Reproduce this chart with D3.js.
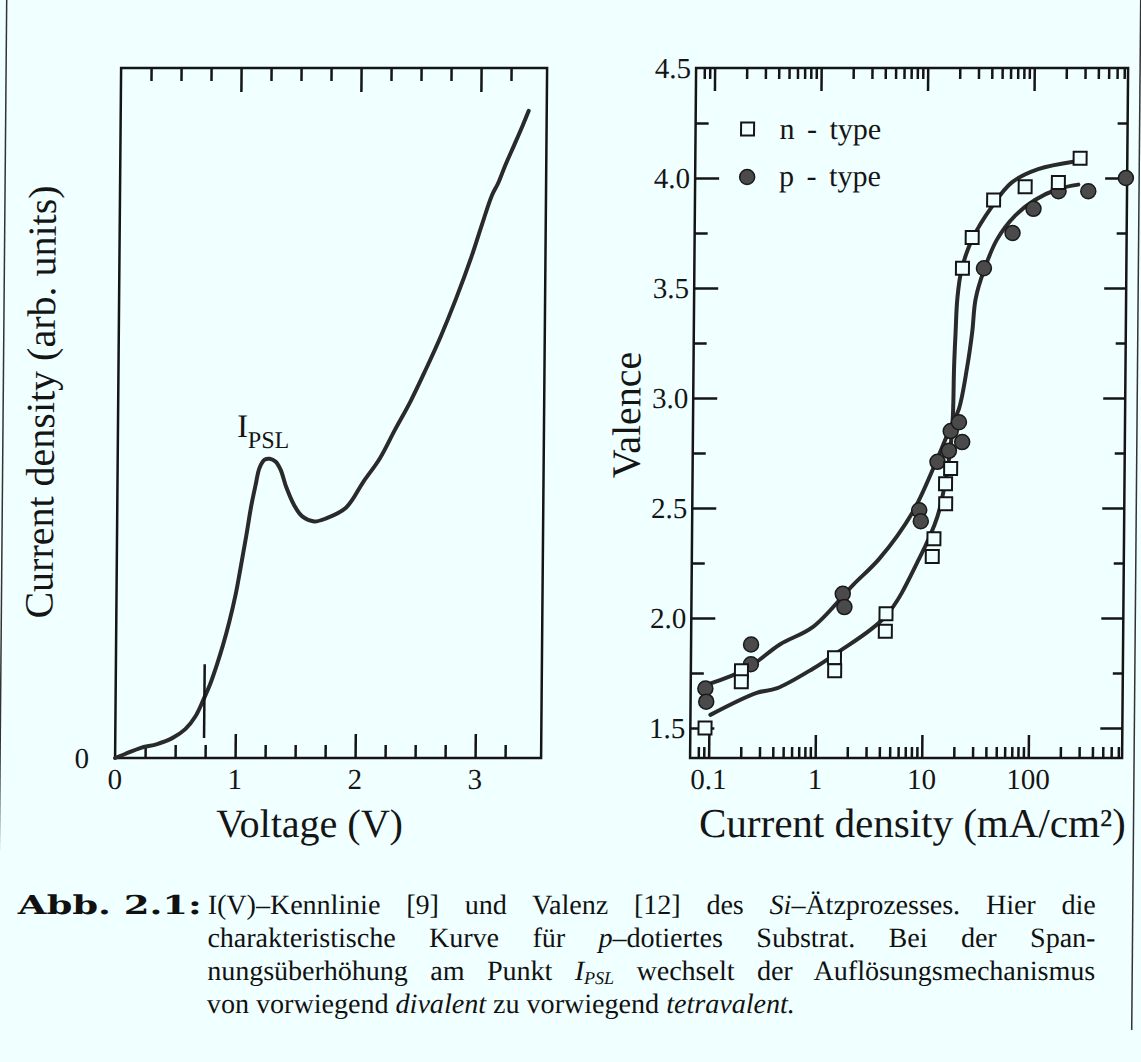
<!DOCTYPE html>
<html><head><meta charset="utf-8">
<script src="https://cdn.jsdelivr.net/npm/d3@7"></script>
<style>body{margin:0;background:#f0ffff;} svg{display:block;} text{white-space:pre;}</style>
</head><body>
<svg id="c" width="1141" height="1062"></svg>
<script>
// ---------- data: left panel I(V) ----------
const ivVoltage = [0, 0.083, 0.208, 0.35, 0.475, 0.583, 0.667, 0.733, 0.792, 0.842, 0.892, 0.942, 0.992, 1.033, 1.075, 1.117, 1.150, 1.183, 1.225, 1.267, 1.317, 1.358, 1.408, 1.475, 1.542, 1.642, 1.742, 1.908, 2.05, 2.183, 2.308, 2.433, 2.558, 2.683, 2.808, 2.933, 3.017, 3.10, 3.15, 3.208, 3.283, 3.35, 3.40];
const ivCurrent = [0, 0.58, 1.44, 2.02, 2.88, 4.18, 6.05, 8.50, 10.95, 13.54, 16.43, 19.74, 23.63, 27.67, 31.99, 36.60, 39.48, 42.07, 43.23, 43.37, 42.94, 41.79, 39.19, 36.60, 35.01, 34.29, 34.73, 36.31, 40.06, 43.37, 47.55, 51.59, 56.20, 61.10, 66.57, 72.62, 77.23, 81.56, 83.29, 85.88, 88.90, 91.64, 93.80];
const markerVoltage = [0.74, 0.74];
const markerCurrent = [2.9, 13.6];
const leftXTickLabels = [0, 1, 2, 3];
const leftXMajor = [1, 2, 3];
const leftXMinor = [0.25, 0.5, 0.75, 1.25, 1.5, 1.75, 2.25, 2.5, 2.75, 3.25];

// ---------- data: right panel valence ----------
const nTypeCurrent = [0.092, 0.20, 0.20, 1.49, 1.50, 4.50, 4.45, 12.5, 12.1, 16.0, 15.9, 17.7, 22, 27, 42.6, 84, 172, 274];
const nTypeValence = [1.50, 1.76, 1.71, 1.82, 1.76, 2.02, 1.94, 2.36, 2.28, 2.52, 2.61, 2.68, 3.59, 3.73, 3.90, 3.96, 3.98, 4.09];
const pTypeCurrent = [0.092, 0.094, 0.245, 0.245, 1.76, 1.83, 9.04, 9.38, 13.3, 17.0, 17.6, 21.0, 22.6, 35, 64.5, 101, 173, 329, 740];
const pTypeValence = [1.68, 1.62, 1.88, 1.79, 2.11, 2.05, 2.49, 2.44, 2.71, 2.76, 2.85, 2.89, 2.80, 3.59, 3.75, 3.86, 3.94, 3.94, 4.00];
const nFitCurrent = [0.103, 0.279, 0.428, 0.937, 1.55, 4.5, 9.12, 13.4, 15.95, 17.6, 18.4, 18.7, 19.2, 19.8, 21.5, 26.9, 41.1, 63, 111, 244];
const nFitValence = [1.56, 1.66, 1.68, 1.77, 1.84, 2.01, 2.27, 2.46, 2.63, 2.78, 2.92, 3.14, 3.30, 3.45, 3.58, 3.72, 3.87, 3.98, 4.04, 4.075];
const pFitCurrent = [0.0985, 0.224, 0.456, 0.931, 2.19, 3.86, 7.83, 12.4, 17.6, 20.9, 24.8, 27.5, 29.4, 35, 46.1, 68.4, 104, 172, 265];
const pFitValence = [1.70, 1.77, 1.88, 1.96, 2.15, 2.27, 2.48, 2.69, 2.87, 2.95, 3.14, 3.30, 3.45, 3.58, 3.72, 3.83, 3.90, 3.95, 3.97];
const rightXTickLabels = [0.1, 1, 10, 100];
const rightXMinor = [0.08, 0.09, 0.2, 0.3, 0.4, 0.5, 0.6, 0.7, 0.8, 0.9, 2, 3, 4, 5, 6, 7, 8, 9, 20, 30, 40, 50, 60, 70, 80, 90, 200, 300, 400, 500, 600, 700];
const rightYTickLabels = [1.5, 2.0, 2.5, 3.0, 3.5, 4.0, 4.5];
const rightYMajor = [1.5, 2.0, 2.5, 3.0, 3.5, 4.0];
const rightYMinor = [1.75, 2.25, 2.75, 3.25, 3.75, 4.25];
const legendLabels = ["n - type", "p - type"];

// ---------- drawing ----------
const FONT = "'Liberation Serif','Times New Roman',serif";
const INK = "#151515";
const BG = "#f0ffff";
const svg = d3.select("#c");
svg.append("rect").attr("width", 1141).attr("height", 1062).attr("fill", BG);
const root = svg.append("g").attr("transform", "translate(3.7,0) skewX(-0.5)");

// page frame lines
root.append("line").attr("x1", 3).attr("x2", 3).attr("y1", 0).attr("y2", 1062).attr("stroke", "#333").attr("stroke-width", 1.5);
root.append("line").attr("x1", 1137).attr("x2", 1137).attr("y1", 0).attr("y2", 1030).attr("stroke", "#333").attr("stroke-width", 1.5);

const BOTTOM = 758, TOP = 68;
const xL = d3.scaleLinear([0, 3.55], [118, 544]);
const yL = d3.scaleLinear([0, 100], [BOTTOM, TOP]);
const xR = d3.scaleLog([0.067, 760], [693, 1125]);
const yR = d3.scaleLinear([1.364, 4.5], [BOTTOM, TOP]);

function tickSet(g, axisFn, scale, values, size) {
  g.call(axisFn(scale).tickValues(values).tickSize(size).tickSizeOuter(0).tickFormat(() => ""));
  g.select(".domain").remove();
  g.selectAll(".tick line").attr("stroke", INK).attr("stroke-width", 2.5);
}

// ---- left panel ----
const L = root.append("g");
L.append("rect").attr("x", xL(0)).attr("y", TOP).attr("width", xL(3.55) - xL(0)).attr("height", BOTTOM - TOP)
  .attr("fill", "none").attr("stroke", INK).attr("stroke-width", 2.5);
tickSet(L.append("g").attr("transform", `translate(0,${TOP})`), d3.axisTop, xL, leftXMinor, -13);
tickSet(L.append("g").attr("transform", `translate(0,${TOP})`), d3.axisTop, xL, leftXMajor, -24);
tickSet(L.append("g").attr("transform", `translate(0,${BOTTOM})`), d3.axisBottom, xL, leftXMinor, -13);
tickSet(L.append("g").attr("transform", `translate(0,${BOTTOM})`), d3.axisBottom, xL, leftXMajor, -24);

L.selectAll("text.xl").data(leftXTickLabels).join("text")
  .attr("x", d => xL(d)).attr("y", BOTTOM + 31).attr("text-anchor", "middle")
  .attr("font-family", FONT).attr("font-size", 29).attr("fill", INK).text(d => d);
L.append("text").attr("x", 92).attr("y", BOTTOM + 10).attr("text-anchor", "end")
  .attr("font-family", FONT).attr("font-size", 29).attr("fill", INK).text("0");

const ivLine = d3.line().x(d => xL(d[0])).y(d => yL(d[1])).curve(d3.curveCatmullRom.alpha(0.5));
L.append("path").datum(d3.zip(ivVoltage, ivCurrent)).attr("d", ivLine)
  .attr("fill", "none").attr("stroke", "#2a2a2a").attr("stroke-width", 4).attr("stroke-linejoin", "round").attr("stroke-linecap", "round");
L.append("path").datum(d3.zip(markerVoltage, markerCurrent)).attr("d", d3.line().x(d => xL(d[0])).y(d => yL(d[1])))
  .attr("stroke", INK).attr("stroke-width", 2.5);

const ipsl = L.append("text").attr("x", 237).attr("y", 437).attr("font-family", FONT).attr("fill", INK);
ipsl.append("tspan").attr("font-size", 33).text("I");
ipsl.append("tspan").attr("font-size", 24).attr("dy", 11).text("PSL");

L.append("text").attr("x", 313).attr("y", BOTTOM + 79).attr("text-anchor", "middle")
  .attr("font-family", FONT).attr("font-size", 40).attr("fill", INK).text("Voltage (V)");
L.append("text").attr("transform", "translate(54,402) rotate(-90)").attr("text-anchor", "middle")
  .attr("font-family", FONT).attr("font-size", 40).attr("fill", INK).text("Current density (arb. units)");

// ---- right panel ----
const R = root.append("g");
R.append("rect").attr("x", 693).attr("y", TOP).attr("width", 1125 - 693).attr("height", BOTTOM - TOP)
  .attr("fill", "none").attr("stroke", INK).attr("stroke-width", 2.5);
tickSet(R.append("g").attr("transform", `translate(0,${TOP})`), d3.axisTop, xR, rightXMinor, -11);
tickSet(R.append("g").attr("transform", `translate(0,${TOP})`), d3.axisTop, xR, rightXTickLabels, -23);
tickSet(R.append("g").attr("transform", `translate(0,${BOTTOM})`), d3.axisBottom, xR, rightXMinor, -11);
tickSet(R.append("g").attr("transform", `translate(0,${BOTTOM})`), d3.axisBottom, xR, rightXTickLabels, -23);
tickSet(R.append("g").attr("transform", "translate(693,0)"), d3.axisLeft, yR, rightYMinor, -13);
tickSet(R.append("g").attr("transform", "translate(693,0)"), d3.axisLeft, yR, rightYMajor, -24);
tickSet(R.append("g").attr("transform", "translate(1125,0)"), d3.axisRight, yR, rightYMinor, -10);
tickSet(R.append("g").attr("transform", "translate(1125,0)"), d3.axisRight, yR, rightYMajor, -22);

R.selectAll("text.xr").data(rightXTickLabels).join("text")
  .attr("x", d => xR(d)).attr("y", BOTTOM + 31).attr("text-anchor", "middle")
  .attr("font-family", FONT).attr("font-size", 29).attr("fill", INK).text(d => d);
R.selectAll("text.yr").data(rightYTickLabels).join("text")
  .attr("x", 688).attr("y", d => yR(d) + 10).attr("text-anchor", "end")
  .attr("font-family", FONT).attr("font-size", 29).attr("fill", INK).text(d => d.toFixed(1));

const fitLine = d3.line().x(d => xR(d[0])).y(d => yR(d[1])).curve(d3.curveCatmullRom.alpha(0.5));
[[nFitCurrent, nFitValence], [pFitCurrent, pFitValence]].forEach(([xs, ys]) => {
  R.append("path").datum(d3.zip(xs, ys)).attr("d", fitLine)
    .attr("fill", "none").attr("stroke", "#2a2a2a").attr("stroke-width", 4).attr("stroke-linecap", "round");
});

const SQ = 13, CR = 7.5;
R.selectAll("circle.p").data(d3.zip(pTypeCurrent, pTypeValence)).join("circle")
  .attr("cx", d => xR(d[0])).attr("cy", d => yR(d[1])).attr("r", CR)
  .attr("fill", "#4a4a4a").attr("stroke", "#1a1a1a").attr("stroke-width", 1.5);
R.selectAll("rect.n").data(d3.zip(nTypeCurrent, nTypeValence)).join("rect")
  .attr("x", d => xR(d[0]) - SQ / 2).attr("y", d => yR(d[1]) - SQ / 2).attr("width", SQ).attr("height", SQ)
  .attr("fill", BG).attr("stroke", INK).attr("stroke-width", 2);

// legend
R.append("rect").attr("x", 745 - SQ / 2).attr("y", 129 - SQ / 2).attr("width", SQ).attr("height", SQ)
  .attr("fill", BG).attr("stroke", INK).attr("stroke-width", 2);
R.append("circle").attr("cx", 745).attr("cy", 177).attr("r", CR).attr("fill", "#4a4a4a").attr("stroke", "#1a1a1a").attr("stroke-width", 1.5);
R.selectAll("text.lg").data(legendLabels).join("text")
  .attr("x", 777).attr("y", (d, i) => 139 + i * 47)
  .attr("font-family", FONT).attr("font-size", 30).attr("word-spacing", 5).attr("fill", INK).text(d => d);

R.append("text").attr("x", 916).attr("y", BOTTOM + 79).attr("text-anchor", "middle")
  .attr("font-family", FONT).attr("font-size", 41).attr("fill", INK).text("Current density (mA/cm²)");
R.append("text").attr("transform", "translate(640,415) rotate(-90)").attr("text-anchor", "middle")
  .attr("font-family", FONT).attr("font-size", 40).attr("fill", INK).text("Valence");

// ---- caption ----
const C = root.append("g").attr("fill", "#111");
const capY = [914, 947, 980, 1013];
C.append("text").attr("x", 22).attr("y", capY[0]).attr("font-family", "'DejaVu Serif',serif")
  .attr("font-size", 26).attr("font-weight", "bold")
  .attr("textLength", 184).attr("lengthAdjust", "spacingAndGlyphs").text("Abb. 2.1:");
const capLines = [
  [["I(V)–Kennlinie [9] und Valenz [12] des ", 0], ["Si", 1], ["–Ätzprozesses. Hier die", 0]],
  [["charakteristische Kurve für ", 0], ["p", 1], ["–dotiertes Substrat. Bei der Span-", 0]],
  [["nungsüberhöhung am Punkt ", 0], ["I", 1], ["PSL", 2], [" wechselt der Auflösungsmechanismus", 3]],
  [["von vorwiegend ", 0], ["divalent", 1], [" zu vorwiegend ", 0], ["tetravalent.", 1]]
];
const justifyWidth = 888;
capLines.forEach((parts, i) => {
  const t = C.append("text").attr("x", 212).attr("y", capY[i])
    .attr("font-family", FONT).attr("font-size", 28);
  parts.forEach(([s, st]) => {
    const ts = t.append("tspan").text(s);
    if (st === 1) ts.attr("font-style", "italic");
    if (st === 2) ts.attr("font-style", "italic").attr("font-size", 18).attr("dy", 4);
    if (st === 3) ts.attr("dy", -4);
  });
  if (i < 3) {
    const w = t.node().getComputedTextLength();
    const n = parts.map(p => p[0]).join("").split(" ").length - 1;
    t.attr("word-spacing", Math.max(0, (justifyWidth - w) / n));
  } else {
    t.attr("textLength", 588).attr("lengthAdjust", "spacing");
  }
});
</script>
</body></html>
